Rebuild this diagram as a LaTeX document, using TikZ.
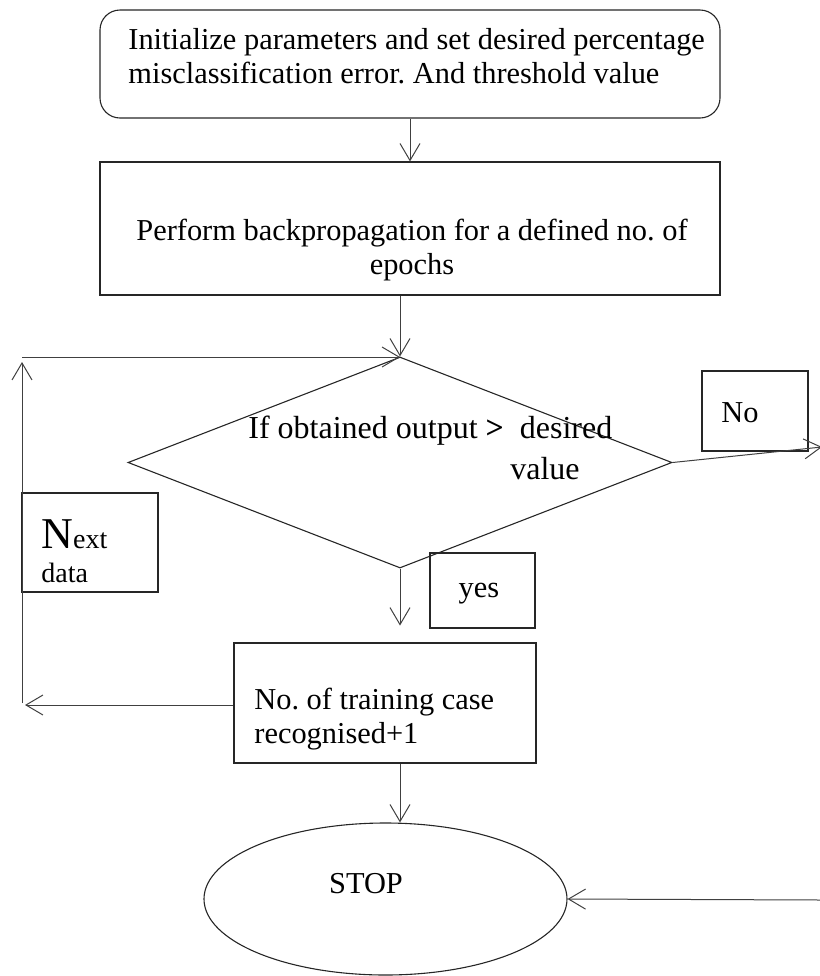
\documentclass[tikz,border=0pt]{standalone}
\usepackage{fontspec}
\setmainfont{Liberation Serif}
\usetikzlibrary{arrows.meta, shapes.geometric}
\frenchspacing

\begin{document}
\begin{tikzpicture}[x=0.5pt, y=-0.5pt,
  txt/.style={font=\fontsize{15.2}{17}\selectfont, inner sep=0pt, align=left},
  box/.style={draw=black!85, line width=0.55pt, inner sep=0pt},
  flow/.style={draw=black!75, line width=0.5pt, -{Straight Barb[length=8.5pt, width=10pt]}}]
\useasboundingbox (0,0) rectangle (820,976);

% shapes of the chart
\node[box, rounded corners=10pt, minimum width=310pt, minimum height=54pt] (init) at (410,64) {};
\node[box, minimum width=310pt, minimum height=66.5pt] (bp) at (410,228.5) {};
\node[box, diamond, minimum width=272pt, minimum height=105.5pt] (dec) at (400,462.5) {};
\node[box, minimum width=68pt, minimum height=49.5pt] (next) at (90,542.5) {};
\node[box, minimum width=52.5pt, minimum height=37.5pt] (yes) at (482.5,590.5) {};
\node[box, minimum width=53pt, minimum height=40pt] (no) at (755,411) {};
\node[box, minimum width=151pt, minimum height=60pt] (cnt) at (385,703) {};
\node[box, ellipse, minimum width=181.5pt, minimum height=76pt] (stop) at (385.5,899) {};

% texts
\node[txt, anchor=west] (initText) at (128,56) {Initialize parameters and set desired percentage\\misclassification error. And threshold value};
\node[txt, align=center] (bpText) at (412,250) {Perform backpropagation for a defined no. of\\epochs};
\node[txt, font=\fontsize{16}{17}\selectfont, anchor=west] (condText) at (248,431) {If obtained output \textbf{>}\ \ desired};
\node[txt, font=\fontsize{16}{17}\selectfont] (valText) at (545,469) {value};
\node[txt, anchor=west] (nextText) at (41,551) {{\fontsize{22}{22}\selectfont N}{\fontsize{14}{14}\selectfont ext}\\{\fontsize{14}{17}\selectfont data}};
\node[txt] (yesText) at (479,594) {yes};
\node[txt] (noText) at (740,413) {No};
\node[txt, anchor=west] (cntText) at (254,719) {No. of training case\\recognised+1};
\node[txt] (stopText) at (366,884) {STOP};

% free ends
\coordinate (loopIn) at (400,357);
\coordinate (loopTop) at (22,357);
\coordinate (loopBot) at (22,703);
\coordinate (backEnd) at (25,705);
\coordinate (noEnd) at (822,447);
\coordinate (rightIn) at (820,900);

% connectors
\draw[flow] (init.south) -- (bp.north);
\draw[flow] (bp.south -| dec.north) -- (dec.north);
\draw[flow] (dec.south) -- ++(0,57);
\draw[flow] (cnt.south -| dec.south) -- (stop.north -| dec.south);
\draw[flow] (cnt.west |- backEnd) -- (backEnd);
\draw[flow] (loopBot) -- ++(0,-341);
\draw[flow] (loopTop) -- (loopIn);
\draw[flow] (dec.east) -- (noEnd);
\draw[flow] (rightIn) -- (stop.east);
\end{tikzpicture}
\end{document}
